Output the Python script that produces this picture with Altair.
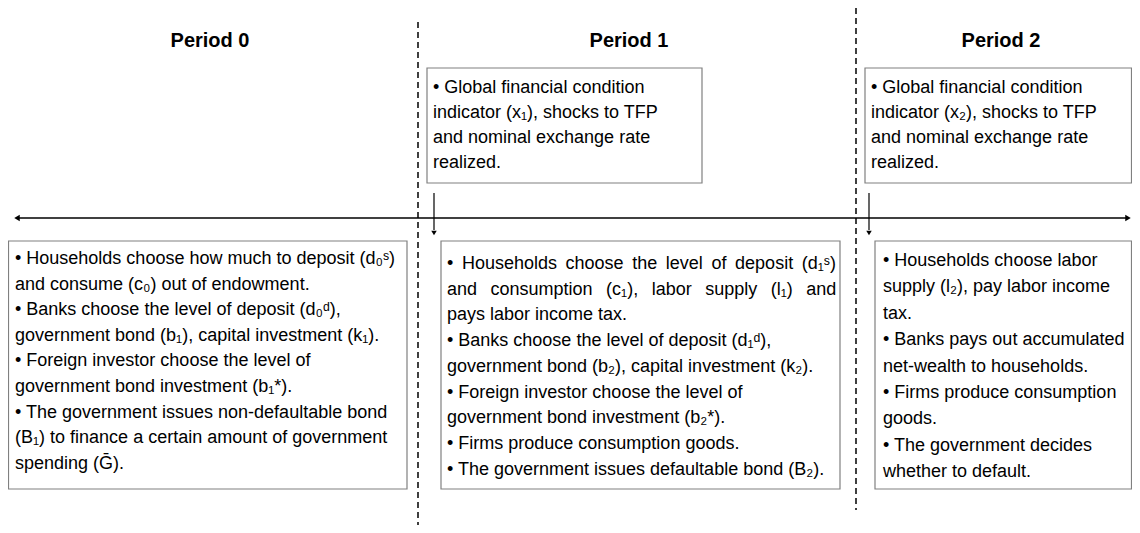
import altair as alt
import pandas as pd

# ---------------- content ----------------
PERIOD_TITLES = ["Period 0", "Period 1", "Period 2"]

TOP_BOX_1 = [
    "• Global financial condition",
    "indicator (x₁), shocks to TFP",
    "and nominal exchange rate",
    "realized.",
]
TOP_BOX_2 = [
    "• Global financial condition",
    "indicator (x₂), shocks to TFP",
    "and nominal exchange rate",
    "realized.",
]
BOX_0 = [
    "• Households choose how much to deposit (d₀ˢ)",
    "and consume (c₀) out of endowment.",
    "• Banks choose the level of deposit (d₀ᵈ),",
    "government bond (b₁), capital investment (k₁).",
    "• Foreign investor choose the level of",
    "government bond investment (b₁*).",
    "• The government issues non-defaultable bond",
    "(B₁) to finance a certain amount of government",
    "spending (Ḡ).",
]
BOX_1 = [
    "• Households choose the level of deposit (d₁ˢ)",
    "and consumption (c₁), labor supply (l₁) and",
    "pays labor income tax.",
    "• Banks choose the level of deposit (d₁ᵈ),",
    "government bond (b₂), capital investment (k₂).",
    "• Foreign investor choose the level of",
    "government bond investment (b₂*).",
    "• Firms produce consumption goods.",
    "• The government issues defaultable bond (B₂).",
]
BOX_2 = [
    "• Households choose labor",
    "supply (l₂), pay labor income",
    "tax.",
    "• Banks pays out accumulated",
    "net-wealth to households.",
    "• Firms produce consumption",
    "goods.",
    "• The government decides",
    "whether to default.",
]

# ---------------- layout (page pixels) ----------------
W, H = 1124, 517
FONT = "Liberation Sans"
xs = alt.Scale(domain=[8, 8 + W], nice=False, zero=False)
ys = alt.Scale(domain=[8, 8 + H], nice=False, zero=False, reverse=True)


def X(f="x"):
    return alt.X(f"{f}:Q", scale=xs, axis=None)


def Y(f="y"):
    return alt.Y(f"{f}:Q", scale=ys, axis=None)


# justified lines in the middle box: widen the word gaps
def justify(line, gap):
    return line.replace(" ", gap)


BOX_1_SHOWN = list(BOX_1)
BOX_1_SHOWN[0] = justify(BOX_1[0], " \u2009")
BOX_1_SHOWN[1] = justify(BOX_1[1], "\u2002\u2005")

# boxes: (x, x2, y, y2)
box_layout = [
    (427, 702, 68, 183),
    (865, 1131.5, 68, 183),
    (8.5, 407, 241, 489),
    (441, 840, 241, 489),
    (875, 1131.5, 241, 489),
]
box_df = pd.DataFrame(box_layout, columns=["x", "x2", "y", "y2"])
boxes = alt.Chart(box_df).mark_rect(
    fill="white", stroke="#808080", strokeWidth=1.2
).encode(x=X(), x2="x2:Q", y=Y(), y2="y2:Q")

# text blocks: lines, x, first baseline, line height
text_layout = [
    (TOP_BOX_1, 433, 93, 25.0),
    (TOP_BOX_2, 871, 93, 25.0),
    (BOX_0, 15, 264, 25.6),
    (BOX_1_SHOWN, 447, 269, 25.7),
    (BOX_2, 883, 266, 26.4),
]
text_layers = []
for lines, tx, ty, lh in text_layout:
    df = pd.DataFrame({"x": [tx], "y": [ty], "t": ["\n".join(lines)]})
    text_layers.append(
        alt.Chart(df).mark_text(
            align="left", baseline="alphabetic", lineBreak="\n",
            lineHeight=lh, font=FONT, fontSize=18, color="black"
        ).encode(x=X(), y=Y(), text="t:N")
    )

title_df = pd.DataFrame({"x": [210, 629, 1001], "y": [41, 41, 41], "t": PERIOD_TITLES})
titles = alt.Chart(title_df).mark_text(
    align="center", baseline="middle", font=FONT, fontSize=20,
    fontWeight="bold", color="black"
).encode(x=X(), y=Y(), text="t:N")

# dashed period separators
dash_df = pd.DataFrame({"x": [418, 856], "y": [22, 8], "y2": [525, 510]})
dashes = alt.Chart(dash_df).mark_rule(
    color="black", strokeWidth=1.5, strokeDash=[6, 4]
).encode(x=X(), y=Y(), y2="y2:Q")

# timeline
tl_df = pd.DataFrame({"x": [16], "x2": [1128], "y": [218]})
timeline = alt.Chart(tl_df).mark_rule(color="black", strokeWidth=1.5).encode(
    x=X(), x2="x2:Q", y=Y()
)
head_df = pd.DataFrame({"x": [17, 1128], "y": [218, 218], "s": ["triangle-left", "triangle-right"]})
heads = alt.Chart(head_df).mark_point(
    filled=True, color="black", size=40, opacity=1
).encode(x=X(), y=Y(), shape=alt.Shape("s:N", scale=None))

# down arrows
down_df = pd.DataFrame({"x": [434, 869], "y": [193, 193], "y2": [230, 230]})
downs = alt.Chart(down_df).mark_rule(color="black", strokeWidth=1.2).encode(
    x=X(), y=Y(), y2="y2:Q"
)
dhead_df = pd.DataFrame({"x": [434, 869], "y": [233, 233]})
dheads = alt.Chart(dhead_df).mark_point(
    filled=True, color="black", size=30, opacity=1, shape="triangle-down"
).encode(x=X(), y=Y())

chart = alt.layer(
    dashes, timeline, heads, downs, dheads, boxes, titles, *text_layers
).properties(
    width=W, height=H, padding=0, autosize=alt.AutoSizeParams(type="none")
).configure_view(stroke=None)

chart.save("out.html", embed_options={"renderer": "svg", "actions": False})
